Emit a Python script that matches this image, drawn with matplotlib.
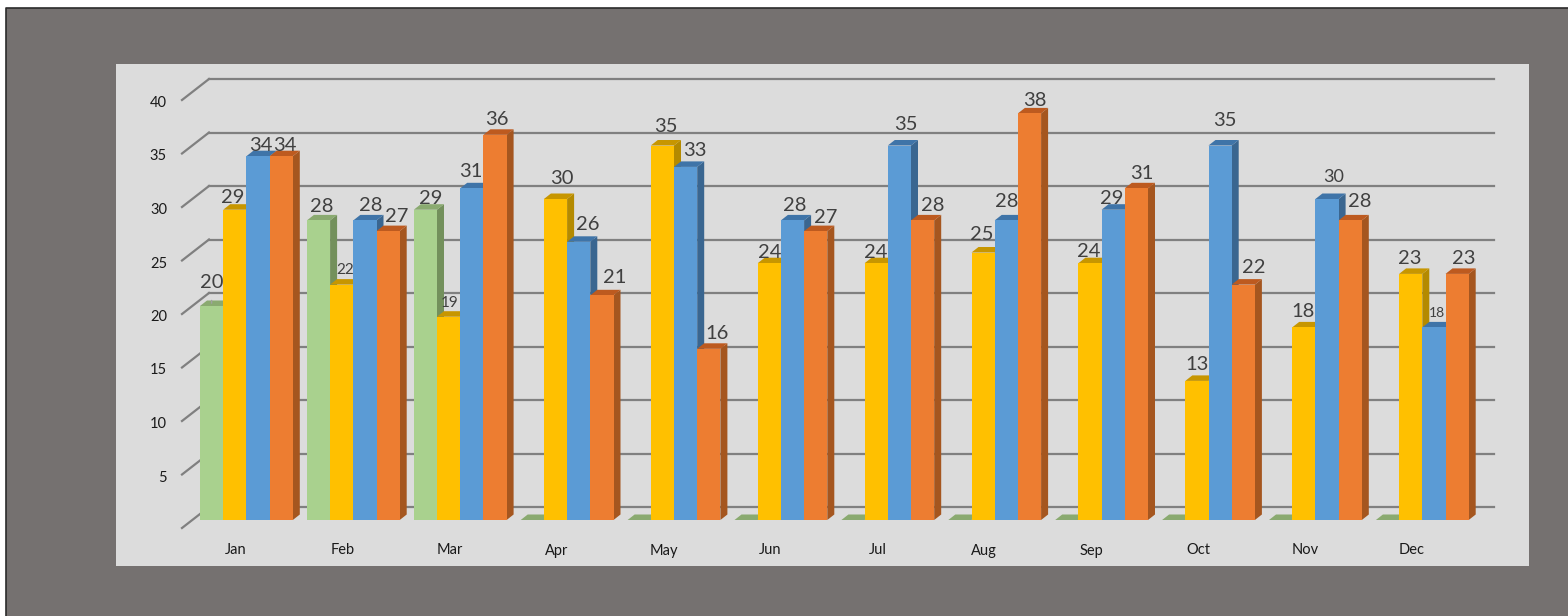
import numpy as np
import matplotlib
matplotlib.use('Agg')
import matplotlib.pyplot as plt
from matplotlib.patches import Polygon, Rectangle

plt.rcParams['font.family'] = ['Lato', 'DejaVu Sans']

months = ['Jan', 'Feb', 'Mar', 'Apr', 'May', 'Jun', 'Jul', 'Aug', 'Sep', 'Oct', 'Nov', 'Dec']
green = [20, 28, 29, 0, 0, 0, 0, 0, 0, 0, 0, 0]
yellow = [29, 22, 19, 30, 35, 24, 24, 25, 24, 13, 18, 23]
blue = [34, 28, 31, 26, 33, 28, 35, 28, 29, 35, 30, 18]
orange = [34, 27, 36, 21, 16, 27, 28, 38, 31, 22, 28, 23]
yticks = [5, 10, 15, 20, 25, 30, 35, 40]

# label offsets from the middle of the bar top, in pixels
off_green = [(0, 25), (3, 15), (5, 13)] + [(0, 0)] * 9
off_yellow = [(-2, 14), (3, 16), (1, 15), (6, 22), (3, 21), (0, 12),
              (0, 12), (-1, 20), (-1, 13), (0, 18), (-1, 17), (-1, 17)]
off_blue = [(3, 12), (6, 16), (-1, 18), (9, 19), (9, 18), (2, 16),
            (6, 22), (0, 20), (-2, 13), (5, 27), (7, 24), (3, 15)]
off_orange = [(4, 12), (9, 16), (2, 17), (13, 19), (8, 17), (10, 15),
              (10, 16), (5, 14), (5, 16), (10, 19), (10, 20), (7, 17)]

# series index, month index -> smaller labels
small = {(1, 1): 11, (1, 2): 11, (2, 11): 10, (2, 10): 13}

# pixel scale of the data
px_x, px_y = 106.9, 10.7
bar_w = 23.2 / px_x
dep_x, dep_y = 7 / px_x, 5.5 / px_y
back_x, back_y = 9 / px_x, 13 / px_y
wall_x, wall_y = 18 / px_x, 8 / px_y
x0, y0 = 200, 520

W, H = 1568, 616
fig = plt.figure(figsize=(W / 100, H / 100), dpi=100, facecolor='white')

# gray card with the dark edge on the left and top only
fig.add_artist(Rectangle((6 / W, 0), 1, 1 - 8 / H, transform=fig.transFigure,
                         facecolor='#757170', edgecolor='none', zorder=-2))
fig.add_artist(plt.Line2D([6 / W, 6 / W, 1], [0, 1 - 8 / H, 1 - 8 / H], transform=fig.transFigure,
                          color='#2b2b2b', lw=1.2, zorder=-1))

ax = fig.add_axes([116 / W, 1 - 566 / H, (1529 - 116) / W, (566 - 64) / H])
ax.set_facecolor('#dcdcdc')
ax.set_xlim((116 - x0) / px_x, (1529 - x0) / px_x)
ax.set_ylim((y0 - 566) / px_y, (y0 - 64) / px_y)
ax.set_xticks([])
ax.set_yticks([])
for s in ax.spines.values():
    s.set_visible(False)

# back wall lines and left wall ticks
grid_right = (1494 - x0) / px_x
for v in [0] + yticks:
    ax.plot([back_x, grid_right], [v + back_y, v + back_y], color='#808080', lw=1.6, zorder=1)
    ax.plot([-wall_x, back_x], [v - wall_y, v + back_y], color='#808080', lw=1.6, zorder=1)

series = [
    (green, off_green, '#a9d18e', '#8aaa70', '#73905c'),
    (yellow, off_yellow, '#ffc000', '#c79600', '#b48a00'),
    (blue, off_blue, '#5b9bd5', '#3f74a8', '#3a6690'),
    (orange, off_orange, '#ed7d31', '#bd5a1f', '#a5561f'),
]

z = 2
for i in range(len(months)):
    for k, (vals, offs, col, top, side) in enumerate(series):
        v = vals[i]
        x = i + k * bar_w
        ax.add_patch(Polygon([(x + bar_w, 0), (x + bar_w + dep_x, dep_y),
                              (x + bar_w + dep_x, v + dep_y), (x + bar_w, v)],
                             facecolor=side, edgecolor='none', zorder=z))
        ax.add_patch(Polygon([(x, v), (x + bar_w, v), (x + bar_w + dep_x, v + dep_y), (x + dep_x, v + dep_y)],
                             facecolor=top, edgecolor='none', zorder=z))
        ax.bar(x, v, width=bar_w, align='edge', color=col, zorder=z + 0.5)
        z += 1

# labels go on top of everything
for i in range(len(months)):
    for k, (vals, offs, col, top, side) in enumerate(series):
        v = vals[i]
        if v == 0:
            continue
        x = i + k * bar_w + bar_w / 2
        ax.annotate(str(v), (x, v), xytext=(offs[i][0] * 0.72, offs[i][1] * 0.72),
                    textcoords='offset points', ha='center', va='center_baseline',
                    fontsize=small.get((k, i), 14.5), color='#404040', zorder=200)

# little leader line above the first bar
ax.annotate('', (bar_w / 2, green[0]), xytext=(0, 6), textcoords='offset points',
            arrowprops=dict(arrowstyle='-', color='#a0a0a0', lw=1), zorder=200)

for v in yticks:
    ax.text((167 - x0) / px_x, v - wall_y - 1.5 / px_y, str(v), ha='right', va='center_baseline',
            fontsize=10.5, color='#1a1a1a', zorder=200)
for i, m in enumerate(months):
    ax.text(i + 36 / px_x, (y0 - 554.5) / px_y, m, ha='center', va='baseline',
            fontsize=10.5, color='#1a1a1a', zorder=200)

fig.savefig('out.png', dpi=100, facecolor=fig.get_facecolor())
